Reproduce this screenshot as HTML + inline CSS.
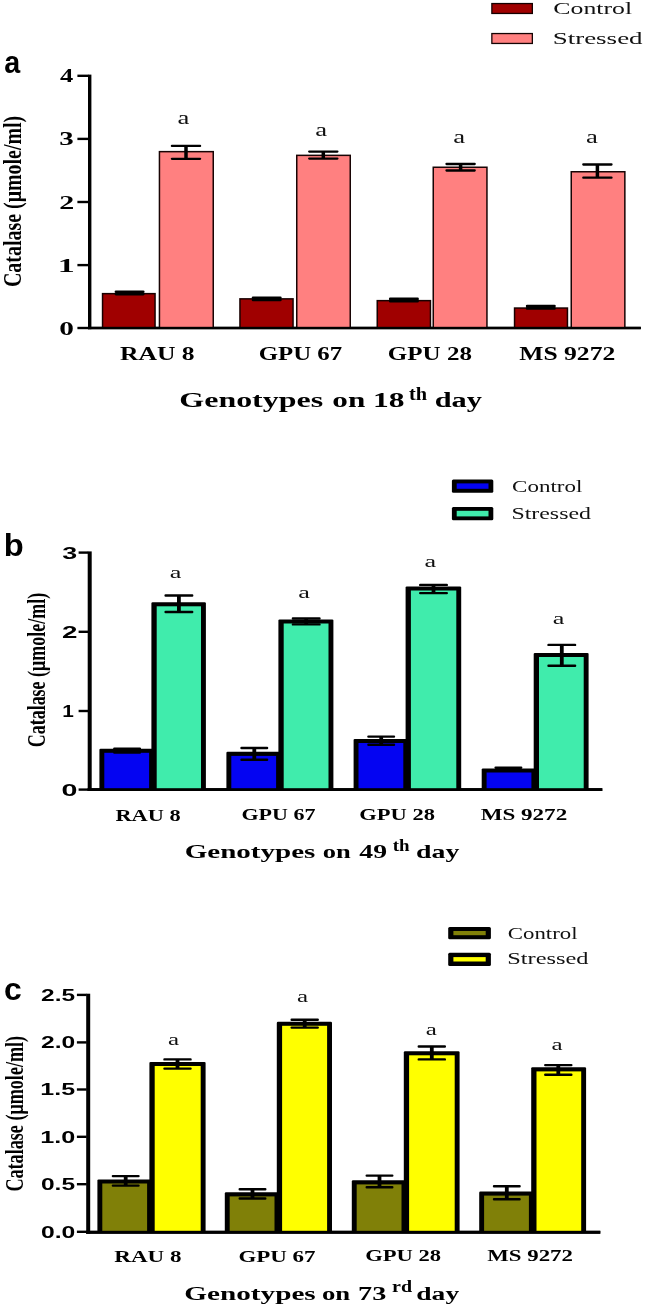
<!DOCTYPE html>
<html lang="en">
<head>
<meta charset="utf-8">
<title>Catalase activity in genotypes</title>
<style>
html,body{margin:0;padding:0;background:#fff;}
body{width:645px;height:1307px;overflow:hidden;}
svg{display:block;}
text{white-space:pre;}
</style>
</head>
<body>
<svg width="645" height="1307" viewBox="0 0 645 1307">
<rect x="0" y="0" width="645" height="1307" fill="#ffffff"/>
<rect x="88.00" y="74.60" width="3.40" height="254.60" fill="#000"/>
<rect x="88.00" y="326.80" width="552.80" height="2.40" fill="#000"/>
<line x1="77.40" y1="75.80" x2="88.50" y2="75.80" stroke="#000" stroke-width="2.4"/>
<line x1="77.40" y1="138.90" x2="88.50" y2="138.90" stroke="#000" stroke-width="2.4"/>
<line x1="77.40" y1="202.00" x2="88.50" y2="202.00" stroke="#000" stroke-width="2.4"/>
<line x1="77.40" y1="265.10" x2="88.50" y2="265.10" stroke="#000" stroke-width="2.4"/>
<line x1="77.40" y1="328.00" x2="88.40" y2="328.00" stroke="#000" stroke-width="2.4"/>
<text x="60.13" y="82.30" font-family="Liberation Serif, serif" font-size="18" font-weight="bold" fill="#000" textLength="13.26" lengthAdjust="spacingAndGlyphs">4</text>
<text x="59.39" y="145.40" font-family="Liberation Serif, serif" font-size="18" font-weight="bold" fill="#000" textLength="14.48" lengthAdjust="spacingAndGlyphs">3</text>
<text x="59.20" y="208.50" font-family="Liberation Serif, serif" font-size="18" font-weight="bold" fill="#000" textLength="15.00" lengthAdjust="spacingAndGlyphs">2</text>
<text x="57.68" y="271.60" font-family="Liberation Serif, serif" font-size="18" font-weight="bold" fill="#000" textLength="17.03" lengthAdjust="spacingAndGlyphs">1</text>
<text x="59.37" y="334.50" font-family="Liberation Serif, serif" font-size="18" font-weight="bold" fill="#000" textLength="14.65" lengthAdjust="spacingAndGlyphs">0</text>
<text transform="translate(20.70,287.10) rotate(-90)" x="0" y="0" font-family="Liberation Serif, serif" font-size="25.5" font-weight="bold" fill="#000" textLength="171.34" lengthAdjust="spacingAndGlyphs">Catalase (μmole/ml)</text>
<text x="4.28" y="72.90" font-family="Liberation Sans, sans-serif" font-size="32" font-weight="bold" fill="#000" textLength="15.96" lengthAdjust="spacingAndGlyphs">a</text>
<rect x="101.80" y="292.90" width="54.00" height="35.10" fill="#180000"/>
<rect x="103.30" y="294.40" width="51.00" height="33.60" fill="#A00000"/>
<rect x="239.20" y="298.10" width="54.60" height="29.90" fill="#180000"/>
<rect x="240.70" y="299.60" width="51.60" height="28.40" fill="#A00000"/>
<rect x="376.50" y="299.90" width="54.70" height="28.10" fill="#180000"/>
<rect x="378.00" y="301.40" width="51.70" height="26.60" fill="#A00000"/>
<rect x="513.80" y="307.30" width="54.40" height="20.70" fill="#180000"/>
<rect x="515.30" y="308.80" width="51.40" height="19.20" fill="#A00000"/>
<rect x="158.70" y="150.90" width="55.30" height="177.10" fill="#180404"/>
<rect x="160.20" y="152.40" width="52.30" height="175.60" fill="#FF8080"/>
<rect x="296.00" y="154.60" width="55.00" height="173.40" fill="#180404"/>
<rect x="297.50" y="156.10" width="52.00" height="171.90" fill="#FF8080"/>
<rect x="432.50" y="166.50" width="55.20" height="161.50" fill="#180404"/>
<rect x="434.00" y="168.00" width="52.20" height="160.00" fill="#FF8080"/>
<rect x="570.50" y="171.00" width="55.10" height="157.00" fill="#180404"/>
<rect x="572.00" y="172.50" width="52.10" height="155.50" fill="#FF8080"/>
<line x1="129.60" y1="291.80" x2="129.60" y2="294.10" stroke="#000" stroke-width="3.0"/>
<path d="M115.90 291.80H143.30M115.90 294.10H143.30" stroke="#000" stroke-width="2.6" stroke-linecap="round" fill="none"/>
<line x1="266.70" y1="297.70" x2="266.70" y2="299.90" stroke="#000" stroke-width="3.0"/>
<path d="M253.00 297.70H280.40M253.00 299.90H280.40" stroke="#000" stroke-width="2.6" stroke-linecap="round" fill="none"/>
<line x1="403.90" y1="298.90" x2="403.90" y2="301.20" stroke="#000" stroke-width="3.0"/>
<path d="M390.20 298.90H417.60M390.20 301.20H417.60" stroke="#000" stroke-width="2.6" stroke-linecap="round" fill="none"/>
<line x1="540.80" y1="306.10" x2="540.80" y2="308.40" stroke="#000" stroke-width="3.0"/>
<path d="M527.10 306.10H554.50M527.10 308.40H554.50" stroke="#000" stroke-width="2.6" stroke-linecap="round" fill="none"/>
<line x1="186.00" y1="145.90" x2="186.00" y2="158.80" stroke="#000" stroke-width="3.5"/>
<path d="M171.90 145.90H200.10M171.90 158.80H200.10" stroke="#000" stroke-width="2.3" stroke-linecap="round" fill="none"/>
<line x1="323.30" y1="151.60" x2="323.30" y2="158.60" stroke="#000" stroke-width="3.5"/>
<path d="M309.20 151.60H337.40M309.20 158.60H337.40" stroke="#000" stroke-width="2.3" stroke-linecap="round" fill="none"/>
<line x1="460.60" y1="164.00" x2="460.60" y2="170.50" stroke="#000" stroke-width="3.5"/>
<path d="M446.50 164.00H474.70M446.50 170.50H474.70" stroke="#000" stroke-width="2.3" stroke-linecap="round" fill="none"/>
<line x1="597.40" y1="164.50" x2="597.40" y2="177.70" stroke="#000" stroke-width="3.5"/>
<path d="M583.30 164.50H611.50M583.30 177.70H611.50" stroke="#000" stroke-width="2.3" stroke-linecap="round" fill="none"/>
<rect x="88.00" y="326.80" width="552.80" height="2.40" fill="#000"/>
<text x="177.46" y="123.60" font-family="Liberation Serif, serif" font-size="18" font-weight="normal" fill="#111" textLength="11.87" lengthAdjust="spacingAndGlyphs">a</text>
<text x="315.26" y="136.20" font-family="Liberation Serif, serif" font-size="18" font-weight="normal" fill="#111" textLength="11.87" lengthAdjust="spacingAndGlyphs">a</text>
<text x="453.26" y="142.70" font-family="Liberation Serif, serif" font-size="18" font-weight="normal" fill="#111" textLength="11.87" lengthAdjust="spacingAndGlyphs">a</text>
<text x="586.06" y="142.70" font-family="Liberation Serif, serif" font-size="18" font-weight="normal" fill="#111" textLength="11.87" lengthAdjust="spacingAndGlyphs">a</text>
<text x="119.92" y="360.40" font-family="Liberation Serif, serif" font-size="18" font-weight="bold" fill="#000" textLength="74.69" lengthAdjust="spacingAndGlyphs">RAU 8</text>
<text x="258.78" y="360.40" font-family="Liberation Serif, serif" font-size="18" font-weight="bold" fill="#000" textLength="83.43" lengthAdjust="spacingAndGlyphs">GPU 67</text>
<text x="387.87" y="360.40" font-family="Liberation Serif, serif" font-size="18" font-weight="bold" fill="#000" textLength="84.10" lengthAdjust="spacingAndGlyphs">GPU 28</text>
<text x="519.32" y="360.40" font-family="Liberation Serif, serif" font-size="18" font-weight="bold" fill="#000" textLength="95.91" lengthAdjust="spacingAndGlyphs">MS 9272</text>
<text x="179.36" y="407.30" font-family="Liberation Serif, serif" font-size="20" font-weight="bold" fill="#000" textLength="143.74" lengthAdjust="spacingAndGlyphs">Genotypes</text>
<text x="332.31" y="407.30" font-family="Liberation Serif, serif" font-size="20" font-weight="bold" fill="#000" textLength="32.94" lengthAdjust="spacingAndGlyphs">on</text>
<text x="373.08" y="407.30" font-family="Liberation Serif, serif" font-size="20" font-weight="bold" fill="#000" textLength="31.46" lengthAdjust="spacingAndGlyphs">18</text>
<text x="408.99" y="400.30" font-family="Liberation Serif, serif" font-size="18.5" font-weight="bold" fill="#000" textLength="18.09" lengthAdjust="spacingAndGlyphs">th</text>
<text x="434.69" y="407.30" font-family="Liberation Serif, serif" font-size="20" font-weight="bold" fill="#000" textLength="47.20" lengthAdjust="spacingAndGlyphs">day</text>
<rect x="491.20" y="2.90" width="41.80" height="11.20" fill="#140000"/>
<rect x="492.50" y="4.20" width="39.20" height="8.60" fill="#A00000"/>
<rect x="491.20" y="32.90" width="41.80" height="11.20" fill="#140303"/>
<rect x="492.50" y="34.20" width="39.20" height="8.60" fill="#FF8080"/>
<text x="553.37" y="13.80" font-family="Liberation Serif, serif" font-size="16.9" font-weight="normal" fill="#111" textLength="78.84" lengthAdjust="spacingAndGlyphs">Control</text>
<text x="552.65" y="43.60" font-family="Liberation Serif, serif" font-size="16.9" font-weight="normal" fill="#111" textLength="89.97" lengthAdjust="spacingAndGlyphs">Stressed</text>
<rect x="87.70" y="551.40" width="4.00" height="239.60" fill="#000"/>
<rect x="87.70" y="788.20" width="514.60" height="2.80" fill="#000"/>
<line x1="78.60" y1="552.60" x2="88.20" y2="552.60" stroke="#000" stroke-width="2.4"/>
<line x1="78.60" y1="631.80" x2="88.20" y2="631.80" stroke="#000" stroke-width="2.4"/>
<line x1="78.60" y1="711.00" x2="88.20" y2="711.00" stroke="#000" stroke-width="2.4"/>
<line x1="78.60" y1="789.60" x2="88.20" y2="789.60" stroke="#000" stroke-width="2.4"/>
<text x="62.26" y="558.50" font-family="Liberation Sans, sans-serif" font-size="16.8" font-weight="bold" fill="#000" textLength="14.91" lengthAdjust="spacingAndGlyphs">3</text>
<text x="61.97" y="637.70" font-family="Liberation Sans, sans-serif" font-size="16.8" font-weight="bold" fill="#000" textLength="15.44" lengthAdjust="spacingAndGlyphs">2</text>
<text x="62.35" y="716.90" font-family="Liberation Sans, sans-serif" font-size="16.8" font-weight="bold" fill="#000" textLength="11.60" lengthAdjust="spacingAndGlyphs">1</text>
<text x="61.40" y="795.50" font-family="Liberation Sans, sans-serif" font-size="16.8" font-weight="bold" fill="#000" textLength="15.94" lengthAdjust="spacingAndGlyphs">0</text>
<text transform="translate(45.40,747.31) rotate(-90)" x="0" y="0" font-family="Liberation Serif, serif" font-size="25" font-weight="bold" fill="#000" textLength="154.47" lengthAdjust="spacingAndGlyphs">Catalase (μmole/ml)</text>
<text x="3.78" y="556.00" font-family="Liberation Sans, sans-serif" font-size="31.5" font-weight="bold" fill="#000" textLength="19.96" lengthAdjust="spacingAndGlyphs">b</text>
<rect x="99.40" y="748.70" width="54.60" height="41.10" fill="#000" rx="1.2"/>
<rect x="151.40" y="602.20" width="54.50" height="187.60" fill="#000" rx="1.2"/>
<rect x="104.30" y="752.80" width="44.80" height="37.00" fill="#0404F2"/>
<rect x="156.70" y="606.30" width="44.30" height="183.50" fill="#40ECAC"/>
<rect x="226.40" y="751.80" width="54.60" height="38.00" fill="#000" rx="1.2"/>
<rect x="278.40" y="619.40" width="55.00" height="170.40" fill="#000" rx="1.2"/>
<rect x="231.30" y="755.90" width="44.80" height="33.90" fill="#0404F2"/>
<rect x="283.70" y="623.50" width="44.80" height="166.30" fill="#40ECAC"/>
<rect x="353.60" y="738.90" width="54.60" height="50.90" fill="#000" rx="1.2"/>
<rect x="405.60" y="586.40" width="55.60" height="203.40" fill="#000" rx="1.2"/>
<rect x="358.50" y="743.00" width="44.80" height="46.80" fill="#0404F2"/>
<rect x="410.90" y="590.50" width="45.40" height="199.30" fill="#40ECAC"/>
<rect x="481.70" y="768.40" width="54.60" height="21.40" fill="#000" rx="1.2"/>
<rect x="533.70" y="652.90" width="54.90" height="136.90" fill="#000" rx="1.2"/>
<rect x="486.60" y="772.50" width="44.80" height="17.30" fill="#0404F2"/>
<rect x="539.00" y="657.00" width="44.70" height="132.80" fill="#40ECAC"/>
<line x1="127.10" y1="748.60" x2="127.10" y2="752.60" stroke="#000" stroke-width="3.8"/>
<path d="M114.30 748.60H139.90M114.30 752.60H139.90" stroke="#000" stroke-width="2.4" stroke-linecap="round" fill="none"/>
<line x1="254.30" y1="748.00" x2="254.30" y2="759.70" stroke="#000" stroke-width="3.8"/>
<path d="M241.50 748.00H267.10M241.50 759.70H267.10" stroke="#000" stroke-width="2.4" stroke-linecap="round" fill="none"/>
<line x1="381.20" y1="736.60" x2="381.20" y2="744.80" stroke="#000" stroke-width="3.8"/>
<path d="M368.40 736.60H394.00M368.40 744.80H394.00" stroke="#000" stroke-width="2.4" stroke-linecap="round" fill="none"/>
<line x1="508.40" y1="767.60" x2="508.40" y2="770.00" stroke="#000" stroke-width="3.8"/>
<path d="M495.60 767.60H521.20M495.60 770.00H521.20" stroke="#000" stroke-width="2.4" stroke-linecap="round" fill="none"/>
<rect x="87.70" y="788.20" width="514.60" height="2.80" fill="#000"/>
<line x1="178.90" y1="595.50" x2="178.90" y2="612.00" stroke="#000" stroke-width="3.8"/>
<path d="M165.60 595.50H192.20M165.60 612.00H192.20" stroke="#000" stroke-width="2.4" stroke-linecap="round" fill="none"/>
<line x1="306.20" y1="618.50" x2="306.20" y2="624.40" stroke="#000" stroke-width="3.8"/>
<path d="M292.90 618.50H319.50M292.90 624.40H319.50" stroke="#000" stroke-width="2.4" stroke-linecap="round" fill="none"/>
<line x1="433.50" y1="584.90" x2="433.50" y2="593.10" stroke="#000" stroke-width="3.8"/>
<path d="M420.20 584.90H446.80M420.20 593.10H446.80" stroke="#000" stroke-width="2.4" stroke-linecap="round" fill="none"/>
<line x1="561.80" y1="644.90" x2="561.80" y2="665.80" stroke="#000" stroke-width="3.8"/>
<path d="M548.50 644.90H575.10M548.50 665.80H575.10" stroke="#000" stroke-width="2.4" stroke-linecap="round" fill="none"/>
<text x="169.88" y="577.70" font-family="Liberation Serif, serif" font-size="17.6" font-weight="normal" fill="#111" textLength="11.65" lengthAdjust="spacingAndGlyphs">a</text>
<text x="298.28" y="597.60" font-family="Liberation Serif, serif" font-size="17.6" font-weight="normal" fill="#111" textLength="11.65" lengthAdjust="spacingAndGlyphs">a</text>
<text x="424.48" y="567.30" font-family="Liberation Serif, serif" font-size="17.6" font-weight="normal" fill="#111" textLength="11.65" lengthAdjust="spacingAndGlyphs">a</text>
<text x="552.78" y="624.30" font-family="Liberation Serif, serif" font-size="17.6" font-weight="normal" fill="#111" textLength="11.65" lengthAdjust="spacingAndGlyphs">a</text>
<text x="115.46" y="820.50" font-family="Liberation Serif, serif" font-size="16.5" font-weight="bold" fill="#000" textLength="65.24" lengthAdjust="spacingAndGlyphs">RAU 8</text>
<text x="241.51" y="820.30" font-family="Liberation Serif, serif" font-size="16.5" font-weight="bold" fill="#000" textLength="73.95" lengthAdjust="spacingAndGlyphs">GPU 67</text>
<text x="359.39" y="819.80" font-family="Liberation Serif, serif" font-size="16.5" font-weight="bold" fill="#000" textLength="75.61" lengthAdjust="spacingAndGlyphs">GPU 28</text>
<text x="480.65" y="820.10" font-family="Liberation Serif, serif" font-size="16.5" font-weight="bold" fill="#000" textLength="86.57" lengthAdjust="spacingAndGlyphs">MS 9272</text>
<text x="184.69" y="857.60" font-family="Liberation Serif, serif" font-size="18.8" font-weight="bold" fill="#000" textLength="130.73" lengthAdjust="spacingAndGlyphs">Genotypes</text>
<text x="322.67" y="857.60" font-family="Liberation Serif, serif" font-size="18.8" font-weight="bold" fill="#000" textLength="28.03" lengthAdjust="spacingAndGlyphs">on</text>
<text x="359.32" y="857.60" font-family="Liberation Serif, serif" font-size="18.8" font-weight="bold" fill="#000" textLength="27.64" lengthAdjust="spacingAndGlyphs">49</text>
<text x="392.82" y="850.90" font-family="Liberation Serif, serif" font-size="16" font-weight="bold" fill="#000" textLength="16.86" lengthAdjust="spacingAndGlyphs">th</text>
<text x="416.09" y="857.60" font-family="Liberation Serif, serif" font-size="18.8" font-weight="bold" fill="#000" textLength="43.28" lengthAdjust="spacingAndGlyphs">day</text>
<rect x="451.90" y="479.40" width="41.40" height="13.40" fill="#000" rx="1.5"/>
<rect x="456.70" y="483.40" width="31.80" height="5.40" fill="#0404F2"/>
<rect x="451.90" y="507.00" width="41.40" height="13.20" fill="#000" rx="1.5"/>
<rect x="456.70" y="510.80" width="31.80" height="5.60" fill="#40ECAC"/>
<text x="512.08" y="491.80" font-family="Liberation Serif, serif" font-size="16.8" font-weight="normal" fill="#111" textLength="70.28" lengthAdjust="spacingAndGlyphs">Control</text>
<text x="511.45" y="518.90" font-family="Liberation Serif, serif" font-size="16.8" font-weight="normal" fill="#111" textLength="79.54" lengthAdjust="spacingAndGlyphs">Stressed</text>
<rect x="86.20" y="993.70" width="4.00" height="240.00" fill="#000"/>
<rect x="86.20" y="1230.80" width="514.10" height="2.90" fill="#000"/>
<line x1="76.90" y1="994.90" x2="86.70" y2="994.90" stroke="#000" stroke-width="2.4"/>
<line x1="76.90" y1="1042.40" x2="86.70" y2="1042.40" stroke="#000" stroke-width="2.4"/>
<line x1="76.90" y1="1089.50" x2="86.70" y2="1089.50" stroke="#000" stroke-width="2.4"/>
<line x1="76.90" y1="1136.80" x2="86.70" y2="1136.80" stroke="#000" stroke-width="2.4"/>
<line x1="76.90" y1="1184.20" x2="86.70" y2="1184.20" stroke="#000" stroke-width="2.4"/>
<line x1="76.90" y1="1231.80" x2="86.70" y2="1231.80" stroke="#000" stroke-width="2.4"/>
<text x="41.07" y="1000.60" font-family="Liberation Sans, sans-serif" font-size="16.5" font-weight="bold" fill="#000" textLength="33.95" lengthAdjust="spacingAndGlyphs">2.5</text>
<text x="41.06" y="1048.10" font-family="Liberation Sans, sans-serif" font-size="16.5" font-weight="bold" fill="#000" textLength="34.20" lengthAdjust="spacingAndGlyphs">2.0</text>
<text x="40.30" y="1095.20" font-family="Liberation Sans, sans-serif" font-size="16.5" font-weight="bold" fill="#000" textLength="34.73" lengthAdjust="spacingAndGlyphs">1.5</text>
<text x="40.29" y="1142.50" font-family="Liberation Sans, sans-serif" font-size="16.5" font-weight="bold" fill="#000" textLength="35.00" lengthAdjust="spacingAndGlyphs">1.0</text>
<text x="40.94" y="1189.90" font-family="Liberation Sans, sans-serif" font-size="16.5" font-weight="bold" fill="#000" textLength="34.07" lengthAdjust="spacingAndGlyphs">0.5</text>
<text x="40.94" y="1237.50" font-family="Liberation Sans, sans-serif" font-size="16.5" font-weight="bold" fill="#000" textLength="34.33" lengthAdjust="spacingAndGlyphs">0.0</text>
<text transform="translate(22.50,1191.62) rotate(-90)" x="0" y="0" font-family="Liberation Serif, serif" font-size="24.5" font-weight="bold" fill="#000" textLength="155.78" lengthAdjust="spacingAndGlyphs">Catalase (μmole/ml)</text>
<text x="3.88" y="999.90" font-family="Liberation Sans, sans-serif" font-size="32" font-weight="bold" fill="#000" textLength="17.75" lengthAdjust="spacingAndGlyphs">c</text>
<rect x="97.40" y="1179.40" width="54.60" height="52.80" fill="#000" rx="1.2"/>
<rect x="149.40" y="1061.90" width="56.20" height="170.30" fill="#000" rx="1.2"/>
<rect x="102.30" y="1183.50" width="44.80" height="48.70" fill="#808008"/>
<rect x="154.70" y="1066.00" width="46.00" height="166.20" fill="#FFFF00"/>
<rect x="224.80" y="1192.30" width="54.60" height="39.90" fill="#000" rx="1.2"/>
<rect x="276.80" y="1021.70" width="55.20" height="210.50" fill="#000" rx="1.2"/>
<rect x="229.70" y="1196.40" width="44.80" height="35.80" fill="#808008"/>
<rect x="282.10" y="1025.80" width="45.00" height="206.40" fill="#FFFF00"/>
<rect x="351.80" y="1180.30" width="54.60" height="51.90" fill="#000" rx="1.2"/>
<rect x="403.80" y="1051.20" width="55.80" height="181.00" fill="#000" rx="1.2"/>
<rect x="356.70" y="1184.40" width="44.80" height="47.80" fill="#808008"/>
<rect x="409.10" y="1055.30" width="45.60" height="176.90" fill="#FFFF00"/>
<rect x="479.20" y="1191.50" width="54.60" height="40.70" fill="#000" rx="1.2"/>
<rect x="531.20" y="1067.30" width="54.90" height="164.90" fill="#000" rx="1.2"/>
<rect x="484.10" y="1195.60" width="44.80" height="36.60" fill="#808008"/>
<rect x="536.50" y="1071.40" width="44.70" height="160.80" fill="#FFFF00"/>
<line x1="125.70" y1="1176.10" x2="125.70" y2="1185.60" stroke="#000" stroke-width="3.8"/>
<path d="M112.90 1176.10H138.50M112.90 1185.60H138.50" stroke="#000" stroke-width="2.4" stroke-linecap="round" fill="none"/>
<line x1="252.50" y1="1189.30" x2="252.50" y2="1198.50" stroke="#000" stroke-width="3.8"/>
<path d="M239.70 1189.30H265.30M239.70 1198.50H265.30" stroke="#000" stroke-width="2.4" stroke-linecap="round" fill="none"/>
<line x1="379.50" y1="1175.60" x2="379.50" y2="1187.30" stroke="#000" stroke-width="3.8"/>
<path d="M366.70 1175.60H392.30M366.70 1187.30H392.30" stroke="#000" stroke-width="2.4" stroke-linecap="round" fill="none"/>
<line x1="506.80" y1="1186.30" x2="506.80" y2="1199.20" stroke="#000" stroke-width="3.8"/>
<path d="M494.00 1186.30H519.60M494.00 1199.20H519.60" stroke="#000" stroke-width="2.4" stroke-linecap="round" fill="none"/>
<rect x="86.20" y="1230.80" width="514.10" height="2.90" fill="#000"/>
<line x1="177.50" y1="1059.40" x2="177.50" y2="1068.60" stroke="#000" stroke-width="3.8"/>
<path d="M164.45 1059.40H190.55M164.45 1068.60H190.55" stroke="#000" stroke-width="2.4" stroke-linecap="round" fill="none"/>
<line x1="304.70" y1="1019.70" x2="304.70" y2="1027.60" stroke="#000" stroke-width="3.8"/>
<path d="M291.65 1019.70H317.75M291.65 1027.60H317.75" stroke="#000" stroke-width="2.4" stroke-linecap="round" fill="none"/>
<line x1="431.80" y1="1046.50" x2="431.80" y2="1059.40" stroke="#000" stroke-width="3.8"/>
<path d="M418.75 1046.50H444.85M418.75 1059.40H444.85" stroke="#000" stroke-width="2.4" stroke-linecap="round" fill="none"/>
<line x1="558.30" y1="1065.10" x2="558.30" y2="1074.80" stroke="#000" stroke-width="3.8"/>
<path d="M545.25 1065.10H571.35M545.25 1074.80H571.35" stroke="#000" stroke-width="2.4" stroke-linecap="round" fill="none"/>
<text x="167.93" y="1044.50" font-family="Liberation Serif, serif" font-size="17.6" font-weight="normal" fill="#111" textLength="11.10" lengthAdjust="spacingAndGlyphs">a</text>
<text x="297.12" y="1001.80" font-family="Liberation Serif, serif" font-size="17.6" font-weight="normal" fill="#111" textLength="11.10" lengthAdjust="spacingAndGlyphs">a</text>
<text x="425.73" y="1035.10" font-family="Liberation Serif, serif" font-size="17.6" font-weight="normal" fill="#111" textLength="11.10" lengthAdjust="spacingAndGlyphs">a</text>
<text x="551.62" y="1049.50" font-family="Liberation Serif, serif" font-size="17.6" font-weight="normal" fill="#111" textLength="11.10" lengthAdjust="spacingAndGlyphs">a</text>
<text x="114.35" y="1261.60" font-family="Liberation Serif, serif" font-size="16.5" font-weight="bold" fill="#000" textLength="67.17" lengthAdjust="spacingAndGlyphs">RAU 8</text>
<text x="238.47" y="1261.60" font-family="Liberation Serif, serif" font-size="16.5" font-weight="bold" fill="#000" textLength="77.11" lengthAdjust="spacingAndGlyphs">GPU 67</text>
<text x="365.18" y="1261.40" font-family="Liberation Serif, serif" font-size="16.5" font-weight="bold" fill="#000" textLength="75.91" lengthAdjust="spacingAndGlyphs">GPU 28</text>
<text x="487.26" y="1261.40" font-family="Liberation Serif, serif" font-size="16.5" font-weight="bold" fill="#000" textLength="85.66" lengthAdjust="spacingAndGlyphs">MS 9272</text>
<text x="184.29" y="1300.00" font-family="Liberation Serif, serif" font-size="19.8" font-weight="bold" fill="#000" textLength="131.44" lengthAdjust="spacingAndGlyphs">Genotypes</text>
<text x="321.96" y="1300.00" font-family="Liberation Serif, serif" font-size="19.8" font-weight="bold" fill="#000" textLength="28.23" lengthAdjust="spacingAndGlyphs">on</text>
<text x="358.05" y="1300.00" font-family="Liberation Serif, serif" font-size="19.8" font-weight="bold" fill="#000" textLength="28.20" lengthAdjust="spacingAndGlyphs">73</text>
<text x="392.10" y="1291.90" font-family="Liberation Serif, serif" font-size="16.6" font-weight="bold" fill="#000" textLength="20.00" lengthAdjust="spacingAndGlyphs">rd</text>
<text x="416.30" y="1300.00" font-family="Liberation Serif, serif" font-size="19.8" font-weight="bold" fill="#000" textLength="42.87" lengthAdjust="spacingAndGlyphs">day</text>
<rect x="448.20" y="926.90" width="42.70" height="12.40" fill="#000" rx="1.5"/>
<rect x="453.40" y="931.00" width="32.30" height="4.20" fill="#808008"/>
<rect x="448.20" y="952.70" width="42.70" height="13.20" fill="#000" rx="1.5"/>
<rect x="453.40" y="957.10" width="32.30" height="4.40" fill="#FFFF00"/>
<text x="507.89" y="938.80" font-family="Liberation Serif, serif" font-size="17" font-weight="normal" fill="#111" textLength="69.67" lengthAdjust="spacingAndGlyphs">Control</text>
<text x="507.21" y="964.10" font-family="Liberation Serif, serif" font-size="17" font-weight="normal" fill="#111" textLength="81.28" lengthAdjust="spacingAndGlyphs">Stressed</text>
</svg>
</body>
</html>
